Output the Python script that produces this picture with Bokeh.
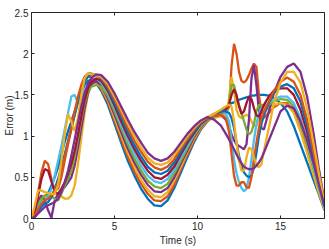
from bokeh.plotting import figure
from bokeh.models import Range1d, LinearAxis, FixedTicker, NumeralTickFormatter
from bokeh.embed import file_html
from bokeh.resources import INLINE

TIME = [0, 0.2, 0.4, 0.6, 0.8, 1.0, 1.2, 1.4, 1.6, 1.8, 2.0, 2.2, 2.4, 2.6, 2.8, 3.0, 3.2, 3.4, 3.6,
        3.9, 4.2, 4.6, 5.0, 5.4, 5.8, 6.2, 6.6, 7.0, 7.4, 7.8, 8.2, 8.6, 9.0, 9.4, 9.8, 10.2, 10.6,
        11.0, 11.4, 11.7, 11.9, 12.05, 12.2, 12.35, 12.5, 12.65, 12.8, 12.95, 13.1, 13.25, 13.4,
        13.55, 13.7, 13.85, 14.0, 14.3, 14.6, 15.0, 15.4, 15.8, 16.2, 16.6, 17.0, 17.3, 17.65]

err_01 = [0, 0.03, 0.10, 0.16, 0.22, 0.30, 0.40, 0.50, 0.62, 0.78, 0.93, 1.06, 1.18, 1.30, 1.42, 1.53, 1.62, 1.67, 1.68,
          1.64, 1.55, 1.38, 1.15, 0.92, 0.70, 0.52, 0.36, 0.24, 0.16, 0.15, 0.22, 0.37, 0.56, 0.75, 0.93, 1.08, 1.18,
          1.25, 1.31, 1.35, 1.38, 1.40, 1.41, 1.43, 1.44, 1.45, 1.46, 1.47, 1.48, 1.49, 1.49, 1.50, 1.50, 1.50, 1.50,
          1.49, 1.46, 1.40, 1.30, 1.12, 0.90, 0.68, 0.46, 0.30, 0.10]
err_02 = [0, 0.10, 0.32, 0.56, 0.70, 0.66, 0.48, 0.34, 0.36, 0.50, 0.70, 0.90, 1.08, 1.26, 1.42, 1.56, 1.67, 1.73, 1.71,
          1.65, 1.57, 1.41, 1.19, 0.96, 0.75, 0.57, 0.42, 0.30, 0.22, 0.21, 0.27, 0.41, 0.60, 0.78, 0.95, 1.09, 1.18,
          1.24, 1.28, 1.28, 1.35, 1.85, 2.12, 2.00, 1.78, 1.67, 1.65, 1.68, 1.74, 1.82, 1.88, 1.84, 1.50, 1.28, 1.22,
          1.28, 1.35, 1.40, 1.40, 1.30, 1.08, 0.82, 0.55, 0.35, 0.12]
err_03 = [0, 0.04, 0.12, 0.20, 0.25, 0.26, 0.27, 0.30, 0.31, 0.27, 0.24, 0.24, 0.28, 0.40, 0.66, 0.98, 1.28, 1.50, 1.62,
          1.66, 1.59, 1.44, 1.22, 1.01, 0.80, 0.63, 0.47, 0.35, 0.27, 0.26, 0.32, 0.46, 0.63, 0.81, 0.97, 1.10, 1.19,
          1.22, 1.24, 1.26, 1.45, 1.72, 1.55, 1.32, 1.24, 1.22, 1.24, 1.26, 1.24, 1.18, 1.12, 1.12, 1.18, 1.25, 1.30,
          1.35, 1.38, 1.40, 1.38, 1.28, 1.06, 0.80, 0.52, 0.32, 0.11]
err_04 = [0, 0.10, 0.22, 0.28, 0.22, 0.10, 0.01, 0.22, 0.30, 0.34, 0.38, 0.44, 0.50, 0.64, 0.86, 1.10, 1.34, 1.52, 1.63,
          1.67, 1.61, 1.46, 1.26, 1.05, 0.85, 0.68, 0.53, 0.41, 0.33, 0.32, 0.37, 0.50, 0.67, 0.83, 0.99, 1.11, 1.20,
          1.24, 1.26, 1.20, 1.12, 1.02, 0.95, 0.90, 0.88, 0.86, 0.84, 0.90, 1.20, 1.70, 1.86, 1.62, 1.30, 1.10, 1.08,
          1.30, 1.52, 1.72, 1.84, 1.88, 1.78, 1.48, 1.02, 0.62, 0.20]
err_05 = [0, 0.06, 0.16, 0.24, 0.28, 0.30, 0.27, 0.24, 0.22, 0.30, 0.40, 0.48, 0.58, 0.74, 0.96, 1.20, 1.40, 1.54, 1.60,
          1.62, 1.60, 1.49, 1.30, 1.10, 0.90, 0.73, 0.58, 0.46, 0.39, 0.37, 0.42, 0.55, 0.70, 0.86, 1.01, 1.12, 1.20,
          1.24, 1.28, 1.30, 1.40, 1.62, 1.62, 1.48, 1.38, 1.28, 1.18, 1.08, 1.02, 1.05, 1.15, 1.30, 1.38, 1.38, 1.36,
          1.38, 1.42, 1.45, 1.44, 1.36, 1.16, 0.90, 0.60, 0.38, 0.13]
err_06 = [0, 0.05, 0.14, 0.20, 0.22, 0.26, 0.36, 0.52, 0.70, 0.88, 1.08, 1.28, 1.48, 1.50, 1.40, 1.45, 1.55, 1.62, 1.67,
          1.70, 1.65, 1.52, 1.34, 1.14, 0.95, 0.79, 0.64, 0.52, 0.45, 0.43, 0.48, 0.59, 0.74, 0.89, 1.03, 1.14, 1.21,
          1.26, 1.30, 1.28, 1.18, 0.95, 0.72, 0.55, 0.44, 0.37, 0.33, 0.36, 0.50, 0.72, 0.95, 1.15, 1.28, 1.34, 1.36,
          1.40, 1.45, 1.48, 1.48, 1.40, 1.22, 0.95, 0.62, 0.40, 0.13]
err_07 = [0, 0.08, 0.28, 0.48, 0.60, 0.58, 0.45, 0.32, 0.30, 0.36, 0.44, 0.54, 0.66, 0.82, 1.02, 1.24, 1.44, 1.58, 1.66,
          1.70, 1.67, 1.55, 1.37, 1.18, 1.00, 0.84, 0.70, 0.58, 0.50, 0.48, 0.53, 0.63, 0.78, 0.92, 1.04, 1.15, 1.21,
          1.26, 1.30, 1.32, 1.38, 1.50, 1.57, 1.50, 1.36, 1.27, 1.30, 1.40, 1.48, 1.45, 1.34, 1.25, 1.24, 1.30, 1.38,
          1.48, 1.55, 1.58, 1.58, 1.50, 1.32, 1.05, 0.72, 0.46, 0.15]
err_08 = [0, 0.02, 0.08, 0.14, 0.18, 0.20, 0.26, 0.36, 0.48, 0.62, 0.78, 0.94, 1.10, 1.26, 1.42, 1.56, 1.66, 1.72, 1.74,
          1.74, 1.70, 1.58, 1.41, 1.23, 1.05, 0.89, 0.75, 0.63, 0.56, 0.54, 0.58, 0.68, 0.81, 0.95, 1.06, 1.16, 1.22,
          1.27, 1.30, 1.30, 1.28, 1.22, 1.10, 0.92, 0.76, 0.64, 0.56, 0.52, 0.50, 0.52, 0.62, 0.80, 1.00, 1.15, 1.25,
          1.40, 1.52, 1.60, 1.63, 1.58, 1.42, 1.12, 0.76, 0.48, 0.15]
err_09 = [0, 0.04, 0.12, 0.18, 0.22, 0.24, 0.28, 0.34, 0.44, 0.58, 0.74, 0.92, 1.10, 1.30, 1.48, 1.62, 1.72, 1.76, 1.76,
          1.74, 1.71, 1.60, 1.45, 1.27, 1.10, 0.94, 0.81, 0.69, 0.62, 0.59, 0.63, 0.72, 0.85, 0.97, 1.08, 1.17, 1.22,
          1.25, 1.26, 1.22, 1.05, 0.78, 0.52, 0.40, 0.40, 0.44, 0.44, 0.38, 0.37, 0.50, 0.72, 0.92, 1.10, 1.22, 1.30,
          1.42, 1.55, 1.66, 1.71, 1.66, 1.50, 1.20, 0.80, 0.50, 0.16]
err_10 = [0, 0.16, 0.34, 0.34, 0.32, 0.31, 0.30, 0.30, 0.40, 0.70, 1.02, 1.27, 1.18, 1.06, 1.22, 1.50, 1.70, 1.76, 1.75,
          1.74, 1.72, 1.63, 1.48, 1.32, 1.15, 1.00, 0.86, 0.74, 0.67, 0.65, 0.68, 0.77, 0.88, 1.00, 1.10, 1.18, 1.23,
          1.27, 1.32, 1.36, 1.38, 1.36, 1.18, 0.92, 0.70, 0.58, 0.58, 0.74, 0.86, 0.84, 0.74, 0.65, 0.62, 0.66, 0.82,
          1.10, 1.40, 1.65, 1.78, 1.78, 1.65, 1.34, 0.90, 0.56, 0.18]
err_11 = [0, 0.02, 0.06, 0.10, 0.14, 0.16, 0.18, 0.20, 0.24, 0.32, 0.44, 0.58, 0.76, 0.96, 1.16, 1.36, 1.52, 1.63, 1.70,
          1.75, 1.74, 1.66, 1.52, 1.36, 1.20, 1.05, 0.92, 0.80, 0.73, 0.70, 0.73, 0.81, 0.92, 1.03, 1.12, 1.19, 1.23,
          1.20, 1.13, 1.03, 0.96, 0.90, 0.84, 0.78, 0.72, 0.67, 0.63, 0.61, 0.60, 0.60, 0.61, 0.64, 0.68, 0.73, 0.80,
          0.95, 1.10, 1.30, 1.37, 1.34, 1.18, 0.95, 0.66, 0.42, 0.15]

SERIES = [err_01, err_02, err_03, err_04, err_05, err_06, err_07, err_08, err_09, err_10, err_11]
COLORS = ["#0072BD", "#D95319", "#EDB120", "#7E2F8E", "#77AC30", "#4DBEEE", "#A2142F"]

X_TICKS = [0, 5, 10, 15]
Y_TICKS = [0, 0.5, 1, 1.5, 2, 2.5]
X_LABEL = "Time (s)"
Y_LABEL = "Error (m)"

AX = "#262626"
FONT = "Liberation Sans"

p = figure(width=329, height=249,
           x_range=Range1d(0, 17.65), y_range=Range1d(0, 2.5),
           output_backend="svg", toolbar_location=None,
           min_border_left=31, min_border_right=5, min_border_top=12, min_border_bottom=31,
           background_fill_color="white", border_fill_color="white")
p.outline_line_color = None
p.grid.visible = False

for i, ys in enumerate(SERIES):
    p.line(TIME, ys, line_color=COLORS[i % len(COLORS)], line_width=2.3)

def style(ax, ticks, show_labels):
    ax.ticker = FixedTicker(ticks=ticks)
    ax.axis_line_color = AX
    ax.axis_line_width = 1
    ax.major_tick_line_color = AX
    ax.major_tick_in = 3
    ax.major_tick_out = 0
    ax.minor_tick_line_color = None
    ax.major_label_text_font = FONT
    ax.major_label_text_color = AX
    ax.major_label_text_font_size = "10px"
    if show_labels:
        ax.major_label_standoff = 3
    else:
        ax.major_label_text_alpha = 0
        ax.major_label_standoff = -20

style(p.xaxis[0], X_TICKS, True)
style(p.yaxis[0], Y_TICKS, True)
p.yaxis[0].formatter = NumeralTickFormatter(format="0.[0]")
p.xaxis[0].axis_label = X_LABEL
p.yaxis[0].axis_label = Y_LABEL
for ax in (p.xaxis[0], p.yaxis[0]):
    ax.axis_label_text_font = FONT
    ax.axis_label_text_font_size = "10px"
    ax.axis_label_text_font_style = "normal"
    ax.axis_label_text_color = AX
p.xaxis[0].axis_label_standoff = 2
p.yaxis[0].axis_label_standoff = -3

top = LinearAxis()
style(top, X_TICKS, False)
p.add_layout(top, "above")
right = LinearAxis()
style(right, Y_TICKS, False)
p.add_layout(right, "right")

open("out.html", "w").write(file_html(p, INLINE))
